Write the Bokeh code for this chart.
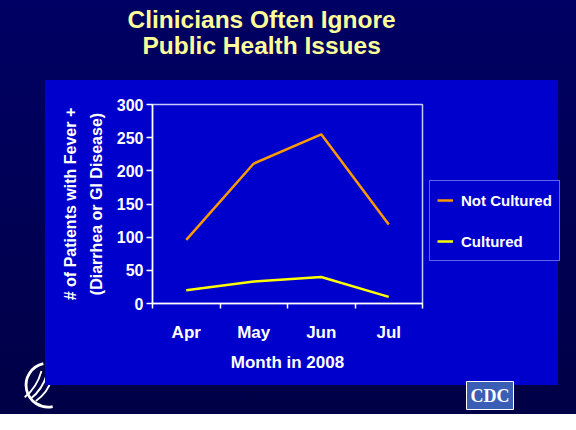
from urllib.parse import quote
from bokeh.plotting import figure
from bokeh.models import FixedTicker, Legend, LegendItem, Range1d, Title
from bokeh.embed import file_html
from bokeh.resources import INLINE

# ---- data ----
months = ["Apr", "May", "Jun", "Jul"]
not_cultured = [96, 211, 255, 119]
cultured = [20, 33, 40, 10]
y_ticks = [0, 50, 100, 150, 200, 250, 300]
title_lines = ["Clinicians Often Ignore", "Public Health Issues"]
series_names = ["Not Cultured", "Cultured"]

FONT = "Liberation Sans"
W, H = 560, 414
FL, FR, FT, FB = 152, 422, 104, 303

hhs_svg = ("<svg xmlns='http://www.w3.org/2000/svg' width='60' height='60'>"
           "<path d='M40 6 A23 23 0 1 0 50 52' fill='none' stroke='white' stroke-width='3'/>"
           "<path d='M20 42 Q33 32 38 14 M26 44 Q39 34 44 17 M32 46 Q45 37 49 22' "
           "fill='none' stroke='white' stroke-width='2'/></svg>")
bg = ("linear-gradient(#0000cc,#0000cc) 45px 80px / 513px 305px no-repeat, "
      "url(\"data:image/svg+xml," + quote(hhs_svg) + "\") 6px 358px / 56px 56px no-repeat, "
      "linear-gradient(180deg,#000064,#000046)")

p = figure(frame_width=FR - FL, frame_height=FB - FT, output_backend="svg", toolbar_location=None,
           title=None,
           x_range=Range1d(0, len(months)), y_range=Range1d(0, 300),
           min_border_left=FL, min_border_right=W - FR,
           min_border_top=FT, min_border_bottom=H - FB)
p.styles = {"background": bg}
p.border_fill_color = None
p.background_fill_color = "#0000cc"
p.outline_line_color = "#c8c8ff"
p.outline_line_width = 1.5
p.grid.visible = False

# spacer between frame and the two title lines
p.add_layout(Title(text=" ", text_font_size="2px", standoff=43), "above")
# title: two lines, nearest line added first
for line, off in ((title_lines[1], -10), (title_lines[0], -25)):
    p.add_layout(Title(text=line, align="left", offset=off, standoff=-3,
                       text_font=FONT, text_font_style="bold", text_font_size="24.5px",
                       text_color="#ffff99"), "above")

xt = [i + 0.5 for i in range(len(months))]
r1 = p.line(xt, not_cultured, line_color="#ff9900", line_width=2.5)
r2 = p.line(xt, cultured, line_color="#ffff00", line_width=2.5)

# x axis
xa = p.xaxis[0]
xa.ticker = FixedTicker(ticks=xt, minor_ticks=list(range(len(months) + 1)))
xa.major_label_overrides = {x: m for x, m in zip(xt, months)}
xa.major_tick_line_color = None
xa.major_tick_out = 0
xa.major_tick_in = 0
xa.minor_tick_line_color = "white"
xa.minor_tick_line_width = 1.5
xa.minor_tick_out = 5
xa.minor_tick_in = 0
xa.major_label_standoff = 14
xa.axis_label = "Month in 2008"
xa.axis_label_standoff = 8

# y axis
ya = p.yaxis[0]
ya.ticker = FixedTicker(ticks=y_ticks)
ya.major_tick_out = 6
ya.major_tick_in = 0
ya.major_tick_line_color = "white"
ya.major_tick_line_width = 1.5
ya.minor_tick_line_color = None
ya.major_label_standoff = 3
ya.axis_label = "# of Patients with Fever +\n(Diarrhea or GI Disease)"
ya.axis_label_standoff = 9
ya.axis_label_text_line_height = 1.5

for ax in (xa, ya):
    ax.axis_line_color = "white"
    ax.axis_line_width = 1.5
    ax.major_label_text_color = "white"
    ax.major_label_text_font = FONT
    ax.major_label_text_font_style = "bold"
    ax.axis_label_text_color = "white"
    ax.axis_label_text_font = FONT
    ax.axis_label_text_font_style = "bold"
xa.major_label_text_font_size = "17px"
xa.axis_label_text_font_size = "17px"
ya.major_label_text_font_size = "16px"
ya.axis_label_text_font_size = "16px"

legend = Legend(items=[LegendItem(label=series_names[0], renderers=[r1]),
                       LegendItem(label=series_names[1], renderers=[r2])],
                location=(7, 42), margin=0, padding=7, spacing=17,
                glyph_width=16, glyph_height=24, label_height=24, label_standoff=8,
                label_text_font=FONT, label_text_font_style="bold",
                label_text_font_size="15px", label_text_color="white",
                background_fill_color="#0000cc", background_fill_alpha=1,
                border_line_color="#c8c8ff", border_line_width=1.5)
p.add_layout(legend, "right")

# CDC logo as a boxed title below
cdc = Title(text="CDC", align="right", offset=-91, standoff=10, padding=4,
            text_font="Liberation Serif", text_font_style="bold", text_font_size="18px",
            text_color="white", background_fill_color="#3a5db5",
            border_line_color="white", border_line_width=1)
p.add_layout(cdc, "below")

open("out.html", "w").write(file_html(p, INLINE))
